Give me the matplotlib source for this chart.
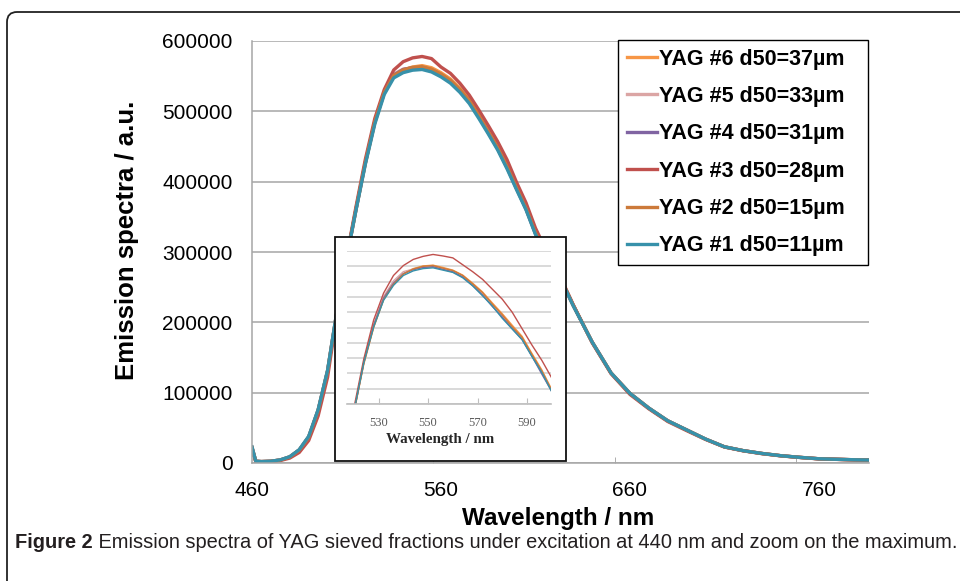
import matplotlib
matplotlib.use('Agg')
import matplotlib.pyplot as plt
from matplotlib.patches import FancyBboxPatch, Rectangle
from matplotlib.transforms import IdentityTransform

# --- data -----------------------------------------------------------------
wavelength = [460, 462, 465, 470, 475, 480, 485, 490, 495, 500, 505, 510, 515, 520,
              525, 530, 535, 540, 545, 550, 555, 560, 565, 570, 575, 580, 585, 590,
              595, 600, 605, 610, 615, 620, 625, 630, 640, 650, 660, 670, 680, 690,
              700, 710, 720, 730, 740, 750, 760, 770, 780, 787]

yag6 = [22000, 2500, 2000, 2500, 4300, 8700, 18500, 37000, 75000, 131000, 216000, 290000,
        360000, 426000, 484000, 526000, 550000, 559000, 563000, 565000, 562000, 555000,
        546000, 533000, 517000, 496000, 473000, 450000, 423000, 393000, 364000, 328000,
        302000, 278000, 253000, 224500, 172000, 128000, 99000, 78000, 60000, 47000,
        34000, 23000, 17500, 13500, 10300, 8000, 6000, 5200, 4500, 4200]
yag5 = [22000, 2500, 2000, 2500, 4300, 8700, 18500, 37000, 75000, 131000, 216000, 290000,
        361000, 428000, 486000, 528000, 553000, 560000, 561500, 562000, 558500, 551500,
        542500, 529500, 513500, 492500, 470000, 446500, 419500, 390000, 361000, 326000,
        300500, 276500, 252000, 224000, 172000, 128000, 99000, 78000, 60000, 47000,
        34000, 23000, 17500, 13500, 10300, 8000, 6000, 5200, 4500, 4200]
yag4 = [22000, 2500, 2000, 2500, 4300, 8700, 18500, 37000, 75000, 131000, 216000, 290000,
        360000, 427000, 485000, 527000, 551500, 559500, 562000, 562500, 559000, 552000,
        543000, 530000, 514000, 493000, 470000, 447000, 420000, 390000, 361000, 326000,
        300500, 276500, 252000, 224000, 172000, 128000, 99000, 78000, 60000, 47000,
        34000, 23000, 17500, 13500, 10300, 8000, 6000, 5200, 4500, 4200]
yag3 = [20000, 2000, 1500, 2000, 3500, 7000, 15000, 32000, 67000, 122000, 212000, 292000,
        364000, 432000, 490000, 531000, 558800, 570600, 576000, 578000, 575000, 563000,
        554000, 540000, 523000, 502000, 480000, 457000, 431000, 399000, 370000, 334000,
        306000, 281000, 254000, 225000, 171000, 127000, 97500, 77000, 59000, 46000,
        33500, 22700, 17300, 13200, 10100, 7800, 5900, 5100, 4400, 4100]
yag2 = [22000, 2500, 2000, 2500, 4300, 8700, 18500, 37000, 75000, 131000, 216000, 290000,
        360000, 427000, 485000, 527000, 551000, 559000, 562500, 563500, 560000, 553000,
        544000, 531000, 515000, 494000, 471000, 448000, 421000, 391000, 362000, 327000,
        301000, 277000, 252000, 224000, 172000, 128000, 99000, 78000, 60000, 47000,
        34000, 23000, 17500, 13500, 10300, 8000, 6000, 5200, 4500, 4200]
yag1 = [23000, 2500, 2000, 2500, 4500, 9000, 19000, 38000, 76000, 132000, 217000, 290000,
        359000, 425000, 482000, 524000, 547500, 555000, 558500, 559500, 556000, 549000,
        540000, 527000, 511000, 490000, 468000, 445000, 418000, 388500, 360000, 325000,
        301000, 277000, 252000, 223500, 172000, 128000, 99000, 78000, 60000, 47000,
        34000, 23000, 17500, 13500, 10300, 8000, 6000, 5200, 4500, 4200]

# zoom on the maximum (inset)
zoom_wl = [520, 524, 528, 532, 536, 540, 544, 548, 552, 556, 560, 564, 568, 572,
           576, 580, 584, 588, 592, 596, 600]
zoom6 = [389000, 452000, 500000, 536500, 557000, 570000, 577000, 580500, 581500, 578500,
         575000, 568500, 558000, 546500, 532000, 518000, 503000, 488500, 466000, 444500, 419000]
zoom5 = [390000, 455000, 504000, 540500, 561000, 573000, 576500, 578500, 579000, 576000,
         572500, 566000, 555000, 543000, 528000, 514000, 499000, 485000, 463000, 442000, 417000]
zoom4 = [390000, 454500, 503000, 538500, 558000, 570500, 575500, 578500, 579500, 576000,
         573000, 566000, 555000, 542500, 527500, 513500, 498500, 484500, 462500, 439000, 416500]
zoom3 = [395000, 459000, 510000, 545000, 568000, 581000, 589000, 593000, 595500, 593500,
         591000, 582000, 573000, 563000, 550000, 537000, 520000, 498500, 477000, 457000, 434000]
zoom2 = [389000, 453500, 501000, 536500, 556500, 570000, 576500, 580000, 581000, 577500,
         574500, 568000, 557000, 545500, 530500, 516500, 501000, 487000, 464500, 443000, 417500]
zoom1 = [390000, 454000, 501000, 535600, 555000, 568000, 574000, 577000, 578000, 575000,
         572000, 565000, 554500, 541500, 528000, 512000, 498000, 484000, 462000, 441000, 416000]

labels = ['YAG #6 d50=37µm', 'YAG #5 d50=33µm', 'YAG #4 d50=31µm',
          'YAG #3 d50=28µm', 'YAG #2 d50=15µm', 'YAG #1 d50=11µm']
colors = ['#F79646', '#DBA5A4', '#8064A2', '#C0504D', '#CC7A3A', '#3791AA']
main_series = [yag6, yag5, yag4, yag3, yag2, yag1]
zoom_series = [zoom6, zoom5, zoom4, zoom3, zoom2, zoom1]

xticks = [460, 560, 660, 760]
yticks = [0, 100000, 200000, 300000, 400000, 500000, 600000]
zoom_xticks = [530, 550, 570, 590]

W, H = 960, 581
plt.rcParams['font.family'] = ['Liberation Sans', 'DejaVu Sans']

fig = plt.figure(figsize=(W / 100, H / 100), dpi=100)

def px(x0, y0, x1, y1):
    # pixel box (top-left origin) -> figure fraction rect
    return [x0 / W, (H - y1) / H, (x1 - x0) / W, (y1 - y0) / H]

# outer rounded frame
frame = FancyBboxPatch((7, -30), 1000, H - 12 + 30, boxstyle='round,pad=0,rounding_size=10',
                       transform=IdentityTransform(), facecolor='none',
                       edgecolor='#222222', linewidth=1.3, clip_on=False)
fig.add_artist(frame)

# main axes
ax = fig.add_axes(px(252, 41, 869, 463), zorder=0)
for ys, c, lab in zip(main_series, colors, labels):
    ax.plot(wavelength, ys, color=c, linewidth=2.4, label=lab)

ax.set_xlim(460, 786.5)
ax.set_ylim(0, 600000)
ax.set_xticks(xticks)
ax.set_xticklabels([str(v) for v in xticks])
ax.set_yticks(yticks)
ax.set_yticklabels([str(v) for v in yticks])
ax.set_xticks([556, 652, 748], minor=True)
ax.tick_params(axis='both', which='major', length=0, labelsize=15, colors='black')
ax.tick_params(axis='x', which='major', pad=13)
ax.tick_params(axis='y', which='major', pad=14)
ax.tick_params(axis='x', which='minor', direction='in', length=4, color='#A0A0A0')
ax.yaxis.grid(True, color='#A6A6A6', linewidth=1.1)
ax.set_axisbelow(True)
for s in ['top', 'right']:
    ax.spines[s].set_visible(False)
for s in ['left', 'bottom']:
    ax.spines[s].set_color('#A6A6A6')
    ax.spines[s].set_linewidth(1.1)

fig.text(558 / W, (H - 519) / H, 'Wavelength / nm', fontsize=17.5, fontweight='bold',
         ha='center', va='center')
fig.text(127 / W, (H - 240) / H, 'Emission spectra / a.u.', fontsize=18.5,
         fontweight='bold', rotation=90, ha='center', va='center')

leg = ax.legend(loc='upper left', mode='expand',
                bbox_to_anchor=(618 / W, (H - 264) / H, 250 / W, 224 / H),
                bbox_transform=fig.transFigure, borderaxespad=0, fancybox=False,
                edgecolor='black', framealpha=1, handlelength=1.4, handletextpad=0.1,
                labelspacing=0.76, borderpad=0.4,
                prop={'weight': 'bold', 'size': 15.5})
leg.get_frame().set_linewidth(1.0)
for h in leg.get_lines():
    h.set_linewidth(2.4)

# inset box + zoom axes
box = Rectangle((335, H - 461), 231, 224, transform=IdentityTransform(),
                facecolor='white', edgecolor='#111111', linewidth=1.3, zorder=2)
fig.add_artist(box)

axin = fig.add_axes(px(347, 251, 551, 404), zorder=3)
axin.patch.set_alpha(0)
for ys, c in zip(zoom_series, colors):
    axin.plot(zoom_wl, ys, color=c, linewidth=1.0)
axin.set_xlim(517.2, 599.7)
axin.set_ylim(400000, 600000)
axin.set_yticks(range(400000, 600001, 20000))
axin.set_yticklabels([])
axin.set_xticks(zoom_xticks)
axin.tick_params(axis='y', length=0)
axin.tick_params(axis='x', direction='in', length=4, color='#BFBFBF',
                 labelsize=9, labelcolor='#595959', pad=9)
for t in axin.get_xticklabels():
    t.set_family(['Liberation Serif', 'DejaVu Serif'])
axin.yaxis.grid(True, color='#D9D9D9', linewidth=1.4)
axin.set_axisbelow(True)
for s in ['top', 'right', 'left']:
    axin.spines[s].set_visible(False)
axin.spines['bottom'].set_color('#BFBFBF')
axin.spines['bottom'].set_linewidth(1.2)
fig.text(440 / W, (H - 439) / H, 'Wavelength / nm', fontsize=10.8, fontweight='bold',
         family=['Liberation Serif', 'DejaVu Serif'], color='#262626',
         ha='center', va='center', zorder=4)

# caption, fitted to the frame width
cap_fam = ['Liberation Sans Narrow', 'Liberation Sans', 'DejaVu Sans']
cap_y = (H - 542) / H
t1 = fig.text(15 / W, cap_y, 'Figure 2', fontsize=13, fontweight='bold',
              family=cap_fam, color='#231F20', va='center')
t2 = fig.text(0, cap_y, ' Emission spectra of YAG sieved fractions under excitation at 440 nm '
              'and zoom on the maximum.', fontsize=13, family=cap_fam,
              color='#231F20', va='center')
r = fig.canvas.get_renderer()
tot = t1.get_window_extent(r).width + t2.get_window_extent(r).width
k = 938.0 / tot
t1.set_fontsize(13 * k)
t2.set_fontsize(13 * k)
w1 = t1.get_window_extent(r).width
t2.set_x((15 + w1) / W)

fig.savefig('out.png', dpi=100)
